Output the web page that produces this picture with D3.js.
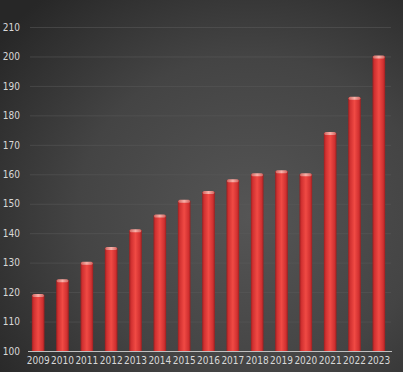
<!DOCTYPE html>
<html><head><meta charset="utf-8">
<script src="https://cdn.jsdelivr.net/npm/d3@7/dist/d3.min.js"></script>
<style>html,body{margin:0;padding:0;background:#333;}svg{display:block;}</style>
</head><body>
<script>
const years = ["2009","2010","2011","2012","2013","2014","2015","2016","2017","2018","2019","2020","2021","2022","2023"];
const values = [119,124,130,135,141,146,151,154,158,160,161,160,174,186,200];
const yTicks = [100,110,120,130,140,150,160,170,180,190,200,210];

const W = 403, H = 372;
const FONT = "'Liberation Sans Narrow', 'DejaVu Sans Condensed', 'Liberation Sans', sans-serif";
const svg = d3.select("body").append("svg").attr("width", W).attr("height", H);
const defs = svg.append("defs");

const bg = defs.append("radialGradient").attr("id","bg").attr("cx","0.62").attr("cy","0.58").attr("r","0.78");
bg.append("stop").attr("offset","0%").attr("stop-color","#555555");
bg.append("stop").attr("offset","55%").attr("stop-color","#444444");
bg.append("stop").attr("offset","100%").attr("stop-color","#272727");
svg.append("rect").attr("width",W).attr("height",H).attr("fill","url(#bg)");

const bar = defs.append("linearGradient").attr("id","bar").attr("x1","0").attr("x2","1").attr("y1","0").attr("y2","0");
bar.append("stop").attr("offset","0%").attr("stop-color","#9a2020");
bar.append("stop").attr("offset","15%").attr("stop-color","#d03030");
bar.append("stop").attr("offset","50%").attr("stop-color","#f04a44");
bar.append("stop").attr("offset","85%").attr("stop-color","#d03030");
bar.append("stop").attr("offset","100%").attr("stop-color","#9a2020");

const cap = defs.append("linearGradient").attr("id","cap").attr("x1","0").attr("x2","1");
cap.append("stop").attr("offset","0%").attr("stop-color","#d06560");
cap.append("stop").attr("offset","50%").attr("stop-color","#f8b0a8");
cap.append("stop").attr("offset","100%").attr("stop-color","#d06560");

const x = d3.scaleBand().domain(years).range([26, 391]).paddingInner(0.48).paddingOuter(0.24);
const y = d3.scaleLinear().domain([100, 210]).range([351, 27]);

// gridlines
const yAxis = d3.axisLeft(y).tickValues(yTicks).tickSize(-(391 - 30)).tickPadding(8);
const ga = svg.append("g").attr("transform","translate(30,0)").call(yAxis);
ga.select(".domain").remove();
ga.selectAll(".tick line").attr("stroke","#5c5c5c").attr("stroke-width",1).attr("opacity",0.5);
ga.selectAll(".tick text").attr("fill","#d8d8d8").attr("font-family",FONT).attr("font-size","10px").attr("x",-10);
ga.selectAll(".tick").filter(d => d === 100).select("line").remove();

// bars
const g = svg.append("g");
g.selectAll("rect.bar").data(values).join("rect").attr("class","bar")
  .attr("x",(d,i)=>x(years[i])).attr("width",x.bandwidth())
  .attr("y",d=>y(d)).attr("height",d=>y(100)-y(d))
  .attr("fill","url(#bar)");
g.selectAll("rect.cap").data(values).join("rect").attr("class","cap")
  .attr("x",(d,i)=>x(years[i])+0.5).attr("width",x.bandwidth()-1)
  .attr("y",d=>y(d)-1).attr("height",3).attr("rx",1.5)
  .attr("fill","url(#cap)");

// x axis
const xa = svg.append("g").attr("transform","translate(0,351)").call(d3.axisBottom(x).tickSize(0).tickPadding(6));
xa.select(".domain").attr("stroke","#c0c0c0").attr("stroke-width",1).attr("d","M28,0.5H392");
xa.selectAll(".tick text").attr("fill","#d8d8d8").attr("font-family",FONT).attr("font-size","10px");
</script>
</body></html>
